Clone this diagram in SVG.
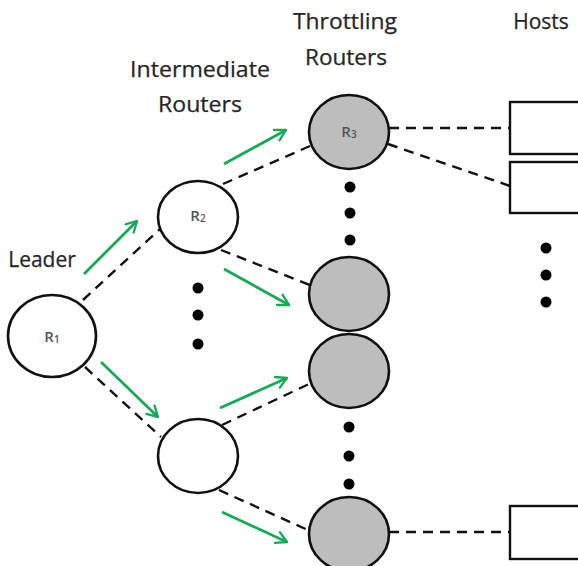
<svg xmlns="http://www.w3.org/2000/svg" width="578" height="566" viewBox="0 0 578 566">
  <defs>
    <marker id="chev" viewBox="0 0 12 12" refX="10" refY="6" markerWidth="5" markerHeight="5" markerUnits="strokeWidth" orient="auto">
      <path d="M1,1 L10,6 L1,11" fill="none" stroke="#1aa858" stroke-width="2" stroke-linecap="round" stroke-linejoin="round"/>
    </marker>
    <style>
      .lbl { font-family: "Open Sans", "Liberation Sans", sans-serif; font-size: 21px; fill: #262626; text-anchor: middle; stroke: #262626; stroke-width: 0.25; }
      .rid { font-family: "Open Sans", "Liberation Sans", sans-serif; font-size: 15px; font-weight: 600; fill: #555; text-anchor: middle; }
      .node { stroke: #111; stroke-width: 2.6; }
      .plain { fill: #fff; }
      .thr { fill: #bdbdbd; }
      .host { fill: #fff; stroke: #111; stroke-width: 2.4; }
      .dash { fill: none; stroke: #111; stroke-width: 2.4; stroke-dasharray: 10 7; }
      .flow { fill: none; stroke: #1aa858; stroke-width: 2.8; marker-end: url(#chev); }
      .dot { fill: #000; }
    </style>
  </defs>

  <!-- column headings -->
  <g id="headings">
    <text class="lbl" x="42" y="267">Leader</text>
    <text class="lbl" x="200" y="77" textLength="140" lengthAdjust="spacingAndGlyphs">Intermediate</text>
    <text class="lbl" x="200" y="112" textLength="84" lengthAdjust="spacingAndGlyphs">Routers</text>
    <text class="lbl" x="345" y="29" textLength="104" lengthAdjust="spacingAndGlyphs">Throttling</text>
    <text class="lbl" x="346" y="65" textLength="82" lengthAdjust="spacingAndGlyphs">Routers</text>
    <text class="lbl" x="541" y="29">Hosts</text>
  </g>

  <!-- links and traffic direction -->
  <g id="connectors">
    <line class="dash" x1="83" y1="300" x2="160" y2="229"/>
    <line class="dash" x1="85" y1="367" x2="161" y2="437"/>
    <line class="dash" x1="223" y1="184" x2="310" y2="146"/>
    <line class="dash" x1="221" y1="250" x2="310" y2="285"/>
    <line class="dash" x1="222" y1="425" x2="309" y2="384"/>
    <line class="dash" x1="219" y1="490" x2="310" y2="531"/>
    <line class="dash" x1="389" y1="128" x2="510" y2="128"/>
    <line class="dash" x1="388" y1="144" x2="510" y2="186"/>
    <line class="dash" x1="389" y1="532" x2="510" y2="532"/>

    <line class="flow" x1="84" y1="274" x2="137" y2="221"/>
    <line class="flow" x1="101" y1="362" x2="158" y2="417"/>
    <line class="flow" x1="224" y1="164" x2="286" y2="130"/>
    <line class="flow" x1="224" y1="269" x2="289" y2="305"/>
    <line class="flow" x1="220" y1="408" x2="287" y2="378"/>
    <line class="flow" x1="222" y1="512" x2="287" y2="542"/>
  </g>

  <!-- leader -->
  <g id="r1">
    <ellipse class="node plain" cx="52" cy="336" rx="44" ry="41"/>
    <text class="rid" x="52" y="342">R<tspan font-size="10" dy="1">1</tspan></text>
  </g>

  <!-- intermediate routers -->
  <g id="r2">
    <ellipse class="node plain" cx="198" cy="217" rx="40" ry="36"/>
    <text class="rid" x="198" y="221">R<tspan font-size="10" dy="1">2</tspan></text>
  </g>
  <g id="mid-lower">
    <ellipse class="node plain" cx="198" cy="456" rx="40" ry="37"/>
  </g>
  <g id="mid-ellipsis">
    <circle class="dot" cx="198" cy="288" r="5.5"/>
    <circle class="dot" cx="198" cy="315" r="5.5"/>
    <circle class="dot" cx="198" cy="344" r="5.5"/>
  </g>

  <!-- throttling routers -->
  <g id="r3">
    <ellipse class="node thr" cx="349" cy="132" rx="40" ry="37"/>
    <text class="rid" x="349" y="137">R<tspan font-size="10" dy="1">3</tspan></text>
  </g>
  <g id="thr-2">
    <ellipse class="node thr" cx="349" cy="294" rx="40" ry="37"/>
  </g>
  <g id="thr-3">
    <ellipse class="node thr" cx="349" cy="371" rx="40" ry="37"/>
  </g>
  <g id="thr-4">
    <ellipse class="node thr" cx="349" cy="534" rx="40" ry="37"/>
  </g>
  <g id="thr-ellipsis">
    <circle class="dot" cx="350" cy="187" r="5.5"/>
    <circle class="dot" cx="350" cy="213" r="5.5"/>
    <circle class="dot" cx="350" cy="240" r="5.5"/>
    <circle class="dot" cx="349" cy="427" r="5.5"/>
    <circle class="dot" cx="349" cy="456" r="5.5"/>
    <circle class="dot" cx="349" cy="484" r="5.5"/>
  </g>

  <!-- hosts -->
  <g id="host-1">
    <rect class="host" x="510" y="102" width="80" height="52"/>
  </g>
  <g id="host-2">
    <rect class="host" x="510" y="162" width="80" height="51"/>
  </g>
  <g id="host-3">
    <rect class="host" x="510" y="506" width="80" height="53"/>
  </g>
  <g id="host-ellipsis">
    <circle class="dot" cx="546" cy="248" r="5.5"/>
    <circle class="dot" cx="546" cy="275" r="5.5"/>
    <circle class="dot" cx="546" cy="302" r="5.5"/>
  </g>
</svg>
